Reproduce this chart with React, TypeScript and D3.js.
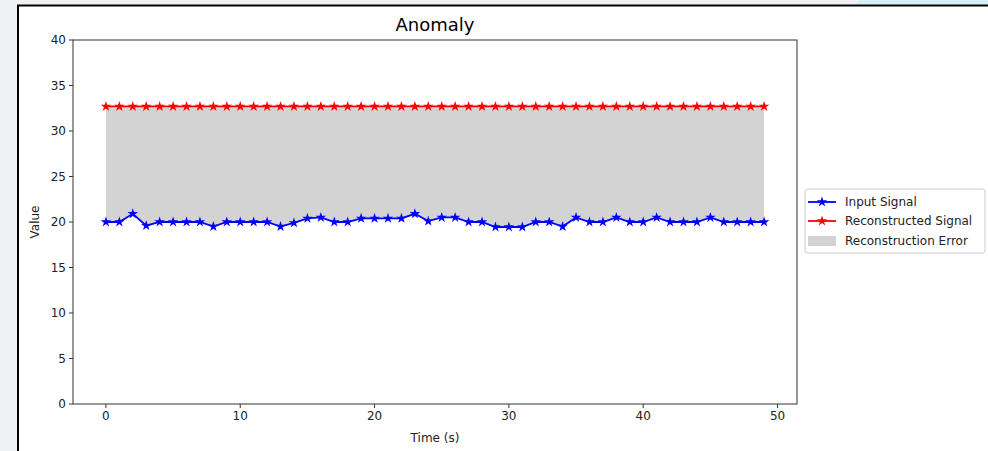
import React from "react";
import * as d3 from "d3";

const timeSteps: number[] = Array.from({ length: 50 }, (_, i) => i);
const inputSignal: number[] = [
  20, 20, 20.9, 19.6, 20, 20, 20, 20, 19.5, 20,
  20, 20, 20, 19.5, 19.9, 20.4, 20.5, 20, 20, 20.4,
  20.4, 20.4, 20.4, 20.9, 20.1, 20.5, 20.5, 20, 20, 19.45,
  19.45, 19.45, 20, 20, 19.5, 20.5, 20, 20, 20.5, 20,
  20, 20.5, 20, 20, 20, 20.5, 20, 20, 20, 20,
];
const reconstructedSignal: number[] = timeSteps.map(() => 32.7);
const xTicks: number[] = [0, 10, 20, 30, 40, 50];
const yTicks: number[] = [0, 5, 10, 15, 20, 25, 30, 35, 40];
const legendLabels: string[] = ["Input Signal", "Reconstructed Signal", "Reconstruction Error"];
const titleText = "Anomaly";
const xLabel = "Time (s)";
const yLabel = "Value";

const W = 988;
const H = 451;
const font = "DejaVu Sans, sans-serif";

export default function App() {
  const left = 73, right = 797, top = 40, bottom = 404;
  const x = d3.scaleLinear().domain([-2.45, 51.45]).range([left, right]);
  const y = d3.scaleLinear().domain([0, 40]).range([bottom, top]);

  const line = d3.line<number>().x((_, i) => x(timeSteps[i])).y((d) => y(d));
  const area = d3
    .area<number>()
    .x((_, i) => x(timeSteps[i]))
    .y0((d) => y(d))
    .y1((_, i) => y(reconstructedSignal[i]));
  const star = d3.symbol().type(d3.symbolStar).size(34)();

  const legX = 805, legY = 189;
  const rows = [202, 221, 241];

  return (
    <svg width={W} height={H} style={{ position: "absolute", left: 0, top: 0 }} fontFamily={font}>
      <rect x={0} y={0} width={W} height={H} fill="#eff1f3" />
      <polygon points="860,0 988,0 988,4 855,4" fill="#d3f1f5" />
      <rect x={18} y={5.5} width={W} height={H} fill="#ffffff" stroke="#000" strokeWidth={2} />

      <text x={(left + right) / 2} y={31} textAnchor="middle" fontSize={18} fill="#000">{titleText}</text>

      <path d={area(inputSignal) || ""} fill="#d3d3d3" />
      <path d={line(reconstructedSignal) || ""} fill="none" stroke="#ff0000" strokeWidth={1.8} />
      {reconstructedSignal.map((v, i) => (
        <path key={"r" + i} d={star || ""} transform={`translate(${x(timeSteps[i])},${y(v)})`} fill="#ff0000" />
      ))}
      <path d={line(inputSignal) || ""} fill="none" stroke="#0000ff" strokeWidth={1.8} />
      {inputSignal.map((v, i) => (
        <path key={"b" + i} d={star || ""} transform={`translate(${x(timeSteps[i])},${y(v)})`} fill="#0000ff" />
      ))}

      <rect x={left} y={top} width={right - left} height={bottom - top} fill="none" stroke="#333" strokeWidth={1} />

      {yTicks.map((t) => (
        <g key={"y" + t}>
          <line x1={left - 4} x2={left} y1={y(t)} y2={y(t)} stroke="#333" />
          <text x={left - 7} y={y(t)} dy="0.35em" textAnchor="end" fontSize={12} fill="#222">{t}</text>
        </g>
      ))}
      {xTicks.map((t) => (
        <g key={"x" + t}>
          <line x1={x(t)} x2={x(t)} y1={bottom} y2={bottom + 4} stroke="#333" />
          <text x={x(t)} y={bottom + 16} textAnchor="middle" fontSize={12} fill="#222">{t}</text>
        </g>
      ))}
      <text x={(left + right) / 2} y={442} textAnchor="middle" fontSize={12} fill="#222">{xLabel}</text>
      <text transform={`translate(39,${(top + bottom) / 2}) rotate(-90)`} textAnchor="middle" fontSize={12} fill="#222">{yLabel}</text>

      <rect x={legX} y={legY} width={180} height={64} rx={3} fill="#fff" stroke="#ccc" />
      <line x1={808} x2={836} y1={rows[0]} y2={rows[0]} stroke="#0000ff" strokeWidth={1.8} />
      <path d={star || ""} transform={`translate(822,${rows[0]})`} fill="#0000ff" />
      <line x1={808} x2={836} y1={rows[1]} y2={rows[1]} stroke="#ff0000" strokeWidth={1.8} />
      <path d={star || ""} transform={`translate(822,${rows[1]})`} fill="#ff0000" />
      <rect x={808} y={rows[2] - 5} width={28} height={10} fill="#d3d3d3" />
      {legendLabels.map((l, i) => (
        <text key={l} x={845} y={rows[i]} dy="0.35em" fontSize={12} fill="#222">{l}</text>
      ))}
    </svg>
  );
}
